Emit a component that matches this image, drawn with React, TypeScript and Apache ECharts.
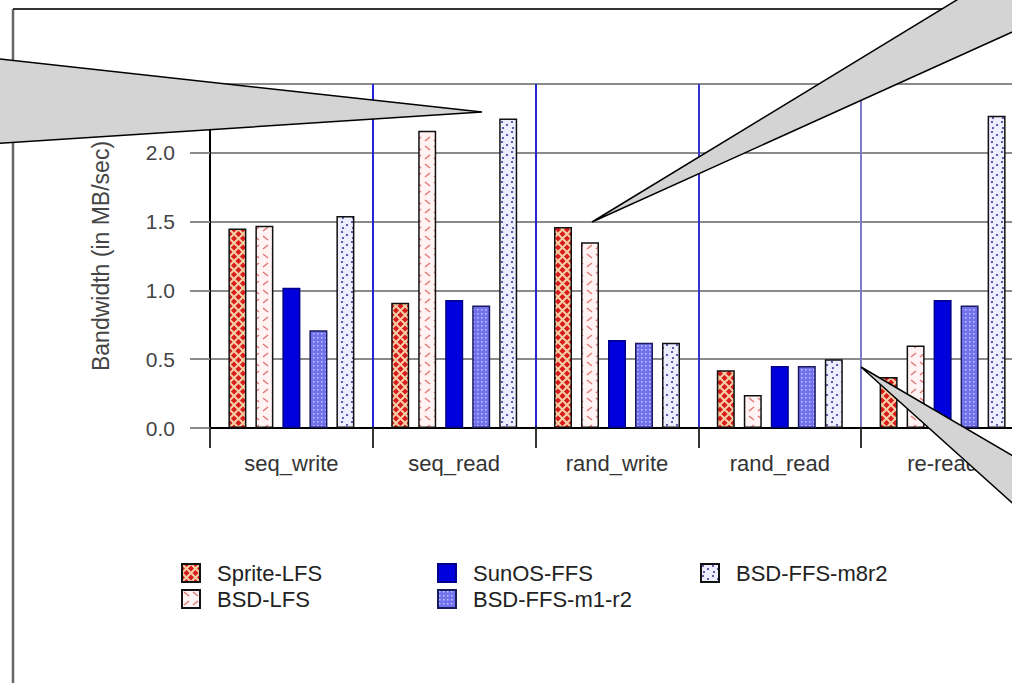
import React, { useEffect, useRef } from 'react';
import * as echarts from 'echarts';

const categories = ['seq_write', 'seq_read', 'rand_write', 'rand_read', 're-read'];
const seriesNames = ['Sprite-LFS', 'BSD-LFS', 'SunOS-FFS', 'BSD-FFS-m1-r2', 'BSD-FFS-m8r2'];
const spriteLFS = [1.45, 0.91, 1.46, 0.42, 0.37];
const bsdLFS = [1.47, 2.16, 1.35, 0.24, 0.6];
const sunosFFS = [1.02, 0.93, 0.64, 0.45, 0.93];
const bsdFFSm1r2 = [0.71, 0.89, 0.62, 0.45, 0.89];
const bsdFFSm8r2 = [1.54, 2.25, 0.62, 0.5, 2.27];
const yAxisName = 'Bandwidth (in MB/sec)';
const yMin = 0;
const yMax = 2.5;
const yStep = 0.5;

const FONT = '"Liberation Sans", Arial, Helvetica, sans-serif';

function makePattern(w: number, h: number, draw: (ctx: CanvasRenderingContext2D) => void) {
  const c = document.createElement('canvas');
  c.width = w;
  c.height = h;
  const ctx = c.getContext('2d') as CanvasRenderingContext2D;
  draw(ctx);
  return { image: c, repeat: 'repeat', imageWidth: w, imageHeight: h } as any;
}

export default function App() {
  const ref = useRef<HTMLDivElement>(null);

  useEffect(() => {
    if (!ref.current) return;
    const chart = echarts.init(ref.current, null, { renderer: 'svg' });

    const pSprite = makePattern(9, 9, (ctx) => {
      ctx.fillStyle = '#d81c1c';
      ctx.fillRect(0, 0, 9, 9);
      ctx.strokeStyle = '#f4cfa6';
      ctx.lineWidth = 2;
      ctx.beginPath();
      ctx.moveTo(-1, -1); ctx.lineTo(10, 10);
      ctx.moveTo(10, -1); ctx.lineTo(-1, 10);
      ctx.stroke();
    });
    const pBsdLfs = makePattern(9, 18, (ctx) => {
      ctx.fillStyle = '#fff3f3';
      ctx.fillRect(0, 0, 9, 18);
      ctx.strokeStyle = '#e37a7a';
      ctx.lineWidth = 1.6;
      ctx.beginPath();
      ctx.moveTo(2, 2); ctx.lineTo(7, 6);
      ctx.moveTo(7, 11); ctx.lineTo(2, 15);
      ctx.stroke();
    });
    const pM1 = makePattern(4, 4, (ctx) => {
      ctx.fillStyle = '#7272ee';
      ctx.fillRect(0, 0, 4, 4);
      ctx.fillStyle = '#c4c4ff';
      ctx.fillRect(1, 1, 1.5, 1.5);
    });
    const pM8 = makePattern(10, 10, (ctx) => {
      ctx.fillStyle = '#eeeeff';
      ctx.fillRect(0, 0, 10, 10);
      ctx.fillStyle = '#3c3ca0';
      const dots = [[2, 2], [7, 5], [3, 8]];
      dots.forEach(([x, y]) => {
        ctx.beginPath();
        ctx.arc(x, y, 1.1, 0, Math.PI * 2);
        ctx.fill();
      });
    });

    const values = [spriteLFS, bsdLFS, sunosFFS, bsdFFSm1r2, bsdFFSm8r2];
    const fills = [pSprite, pBsdLfs, '#0000dd', pM1, pM8];
    const borders = ['#111', '#111', '#00008a', '#1a1a60', '#111'];

    const series = seriesNames.map((name, i) => ({
      name,
      type: 'bar',
      data: values[i],
      barWidth: 18,
      barGap: '50%',
      itemStyle: { color: fills[i], borderColor: borders[i], borderWidth: 1.5 },
      emphasis: { disabled: true },
    }));

    const legendBase = {
      orient: 'vertical',
      itemWidth: 18,
      itemHeight: 18,
      itemGap: 4,
      padding: 0,
      icon: 'rect',
      selectedMode: false,
      textStyle: { fontSize: 22, fontFamily: FONT, color: '#222', padding: [0, 0, 0, 12], lineHeight: 22 },
    };

    chart.setOption({
      animation: false,
      backgroundColor: '#ffffff',
      grid: {
        left: 210, top: 84, width: 814, height: 344,
        show: true, borderColor: '#333', borderWidth: 2, backgroundColor: 'transparent',
      },
      legend: [
        { ...legendBase, data: [seriesNames[0], seriesNames[1]], left: 181, top: 562 },
        { ...legendBase, data: [seriesNames[2], seriesNames[3]], left: 437, top: 562 },
        { ...legendBase, data: [seriesNames[4]], left: 700, top: 562 },
      ],
      xAxis: {
        type: 'category',
        data: categories,
        axisLine: { show: true, lineStyle: { color: '#000', width: 2 } },
        axisTick: { show: true, length: 20, lineStyle: { color: '#333', width: 2 } },
        axisLabel: { fontSize: 22, fontFamily: FONT, color: '#333', margin: 24 },
        splitLine: {
          show: true,
          lineStyle: { color: ['#000', '#2424d8', '#2626d0', '#3434cc', '#7c7cc6', '#6a6ac8'], width: 2 },
        },
      },
      yAxis: {
        type: 'value',
        min: yMin,
        max: yMax,
        interval: yStep,
        name: yAxisName,
        nameLocation: 'middle',
        nameRotate: 90,
        nameGap: 98,
        nameTextStyle: { fontSize: 23, fontFamily: FONT, color: '#444' },
        axisLine: { show: true, lineStyle: { color: '#000', width: 2 } },
        axisTick: { show: true, length: 20, lineStyle: { color: '#8a8a8a', width: 2 } },
        axisLabel: {
          fontSize: 21, fontFamily: FONT, color: '#444', margin: 35,
          formatter: (v: number) => v.toFixed(1),
        },
        splitLine: { show: true, lineStyle: { color: '#8a8a8a', width: 2 } },
      },
      series,
      graphic: [
        { type: 'line', z: 90, shape: { x1: 13, y1: 9, x2: 13, y2: 700 }, style: { stroke: '#666', lineWidth: 2.5 } },
        { type: 'line', z: 90, shape: { x1: 13, y1: 9, x2: 1040, y2: 9 }, style: { stroke: '#333', lineWidth: 2 } },
        {
          type: 'polygon', z: 100,
          shape: { points: [[-10, 58], [482, 112], [-10, 144]] },
          style: { fill: '#d4d4d4', stroke: '#000', lineWidth: 1.5 },
        },
        {
          type: 'polygon', z: 100,
          shape: { points: [[592, 222], [960, -2], [1030, -2], [1030, 24]] },
          style: { fill: '#d4d4d4', stroke: '#000', lineWidth: 1.5 },
        },
        {
          type: 'polygon', z: 100,
          shape: { points: [[861, 367], [1030, 466], [1030, 519]] },
          style: { fill: '#d4d4d4', stroke: '#000', lineWidth: 1.5 },
        },
      ],
    });

    return () => chart.dispose();
  }, []);

  return (
    <div style={{ position: 'fixed', left: 0, top: 0, width: 1012, height: 683, overflow: 'hidden', background: '#fff' }}>
      <div ref={ref} style={{ width: 1040, height: 683 }} />
    </div>
  );
}
